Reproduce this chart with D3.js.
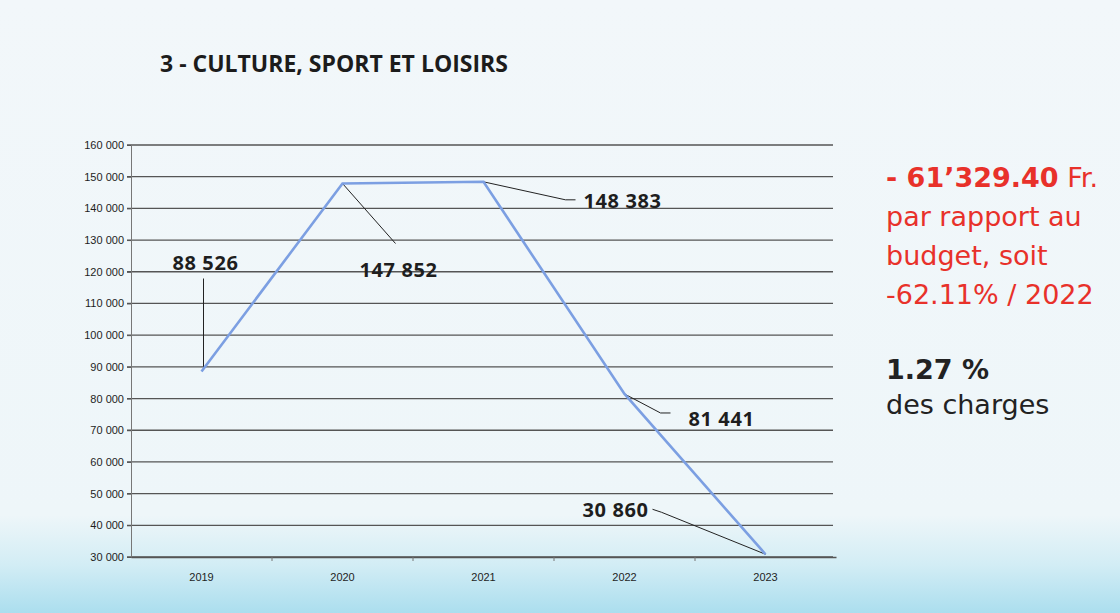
<!DOCTYPE html>
<html>
<head>
<meta charset="utf-8">
<script src="https://cdn.jsdelivr.net/npm/d3@7/dist/d3.min.js"></script>
<style>
  html, body { margin: 0; padding: 0; }
  body { width: 1120px; height: 613px; overflow: hidden; }
</style>
</head>
<body>
<div id="chart"></div>
<script>
const years = ['2019', '2020', '2021', '2022', '2023']
const values = [88526, 147852, 148383, 81441, 30860]
const valueLabels = ['88 526', '147 852', '148 383', '81 441', '30 860']
const yTicks = [30000, 40000, 50000, 60000, 70000, 80000, 90000, 100000, 110000, 120000, 130000, 140000, 150000, 160000]

const width = 1120
const height = 613
const margin = {top: 145, right: 284, bottom: 56, left: 131}

const svg = d3.select('#chart').append('svg')
    .attr('width', width)
    .attr('height', height)

// background wash
const defs = svg.append('defs')
const grad = defs.append('linearGradient')
    .attr('id', 'bg').attr('x1', 0).attr('y1', 0).attr('x2', 0).attr('y2', 1)
grad.append('stop').attr('offset', '0%').attr('stop-color', '#f2f7fa')
grad.append('stop').attr('offset', '84%').attr('stop-color', '#eef6f9')
grad.append('stop').attr('offset', '92%').attr('stop-color', '#d3edf5')
grad.append('stop').attr('offset', '100%').attr('stop-color', '#abdeee')
svg.append('rect')
    .attr('width', width).attr('height', height)
    .attr('fill', 'url(#bg)')

const x = d3.scaleBand()
    .domain(years)
    .range([margin.left, 836])

const y = d3.scaleLinear()
    .domain([30000, 160000])
    .range([557, margin.top])

const plot = svg.append('g')

// gridlines
plot.append('g')
    .selectAll('line')
    .data(yTicks)
    .enter().append('line')
    .attr('x1', margin.left - 4)
    .attr('x2', 833)
    .attr('y1', d => y(d))
    .attr('y2', d => y(d))
    .attr('stroke', '#555')
    .attr('stroke-width', 1.3)

// y axis
const yAxis = plot.append('g')
    .attr('transform', `translate(${margin.left},0)`)
    .call(d3.axisLeft(y).tickValues(yTicks).tickSize(4)
        .tickFormat(d => d3.format(',')(d).replace(/,/g, ' ')))
yAxis.select('.domain').attr('stroke', '#777').attr('stroke-width', 1)
yAxis.selectAll('.tick line').attr('stroke', '#555')
yAxis.selectAll('text')
    .attr('x', -7)
    .style('font-family', '"Liberation Sans Narrow", "Liberation Sans", sans-serif')
    .style('font-size', '11px')
    .style('fill', '#1e1e1e')

// x axis
const xAxis = plot.append('g')
    .attr('transform', `translate(0,${y(30000)})`)
    .call(d3.axisBottom(x).tickSize(0).tickPadding(16))
xAxis.select('.domain').attr('stroke', '#555').attr('stroke-width', 1.3)
xAxis.selectAll('text')
    .style('font-family', '"Liberation Sans Narrow", "Liberation Sans", sans-serif')
    .style('font-size', '11px')
    .style('fill', '#1e1e1e')
plot.append('g')
    .selectAll('line')
    .data(years.slice(1))
    .enter().append('line')
    .attr('x1', d => x(d)).attr('x2', d => x(d))
    .attr('y1', y(30000)).attr('y2', y(30000) + 4)
    .attr('stroke', '#777')

// leader lines and labels (offsets relative to each point)
const notes = [
    {pts: [[2, -2], [2, -93]], tx: 4, ty: -102, anchor: 'middle'},
    {pts: [[0, 0], [53, 60]], tx: 56, ty: 94, anchor: 'middle'},
    {pts: [[0, 0], [82, 18], [92, 18]], tx: 100, ty: 26, anchor: 'start'},
    {pts: [[0, 0], [36, 19], [46, 19]], tx: 64, ty: 32, anchor: 'start'},
    {pts: [[0, 0], [-104, -42], [-113, -45]], tx: -117, ty: -37, anchor: 'end'}
]

const cx = d => x(d) + x.bandwidth() / 2

plot.append('g')
    .selectAll('path')
    .data(years)
    .enter().append('path')
    .attr('d', (d, i) => d3.line()(notes[i].pts.map(p => [cx(d) + p[0], y(values[i]) + p[1]])))
    .attr('fill', 'none')
    .attr('stroke', '#222')
    .attr('stroke-width', 1)

// series line
plot.append('path')
    .datum(values)
    .attr('d', d3.line().x((d, i) => cx(years[i])).y(d => y(d)))
    .attr('fill', 'none')
    .attr('stroke', '#7c9fe2')
    .attr('stroke-width', 2.6)

plot.append('g')
    .selectAll('text')
    .data(years)
    .enter().append('text')
    .attr('x', (d, i) => cx(d) + notes[i].tx)
    .attr('y', (d, i) => y(values[i]) + notes[i].ty)
    .attr('text-anchor', (d, i) => notes[i].anchor)
    .style('font-family', '"Open Sans", sans-serif')
    .style('font-weight', 'bold')
    .style('font-size', '20px')
    .style('letter-spacing', '0.6px')
    .style('fill', '#1e1e1e')
    .text((d, i) => valueLabels[i])

// title
svg.append('text')
    .attr('x', 160).attr('y', 72)
    .style('font-family', '"Open Sans", sans-serif')
    .style('font-weight', 'bold')
    .style('font-size', '23px')
    .style('fill', '#1c1c1c')
    .text('3 - CULTURE, SPORT ET LOISIRS')

// side note
const side = svg.append('g')
    .style('font-family', '"DejaVu Sans", sans-serif')
    .style('font-size', '27px')
const l1 = side.append('text').attr('x', 886).attr('y', 187).style('fill', '#e8312a')
l1.append('tspan').style('font-weight', 'bold').text('- 61’329.40')
l1.append('tspan').text(' Fr.')
side.append('text').attr('x', 886).attr('y', 226).style('fill', '#e8312a').text('par rapport au')
side.append('text').attr('x', 886).attr('y', 265).style('fill', '#e8312a').text('budget, soit')
side.append('text').attr('x', 886).attr('y', 304).style('fill', '#e8312a').text('-62.11% / 2022')
side.append('text').attr('x', 886).attr('y', 379).style('fill', '#222').style('font-weight', 'bold').text('1.27 %')
side.append('text').attr('x', 886).attr('y', 414).style('fill', '#222').text('des charges')
</script>
</body>
</html>
